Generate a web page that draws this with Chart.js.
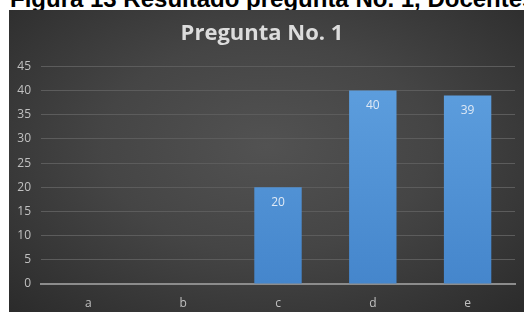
<!DOCTYPE html>
<html lang="es">
<head>
<meta charset="UTF-8">
<title>Pregunta No. 1</title>
<script src="https://cdn.jsdelivr.net/npm/chart.js"></script>
<style>
    body {
        margin: 0;
        width: 524px;
        height: 312px;
        overflow: hidden;
        background: #fff;
        position: relative;
    }
    .caption {
        position: absolute;
        left: 10px;
        top: -13px;
        font-family: 'Liberation Sans', Arial, sans-serif;
        font-weight: bold;
        font-size: 24px;
        line-height: 24px;
        white-space: nowrap;
        color: #000;
    }
    .chart-box {
        position: absolute;
        left: 9px;
        top: 10px;
        width: 515px;
        height: 302px;
        background: radial-gradient(ellipse at 50% 45%, #525252 0%, #454545 45%, #2b2b2b 100%);
    }
</style>
</head>
<body>
<div class="caption">Figura 13 Resultado pregunta No. 1, Docentes</div>
<div class="chart-box"><canvas id="chart"></canvas></div>

<script>
    const categories = ['a', 'b', 'c', 'd', 'e'];
    const values = [0, 0, 20, 40, 39];
    const yTicks = [0, 5, 10, 15, 20, 25, 30, 35, 40, 45];

    // value labels inside the top of each bar
    const barLabels = {
        id: 'barLabels',
        afterDatasetsDraw(chart) {
            const ctx = chart.ctx;
            const meta = chart.getDatasetMeta(0);
            ctx.save();
            ctx.font = '12px "Open Sans", sans-serif';
            ctx.fillStyle = '#dfe9f5';
            ctx.textAlign = 'center';
            ctx.textBaseline = 'middle';
            meta.data.forEach((bar, i) => {
                if (!values[i]) return;
                ctx.fillText(values[i], bar.x, bar.y + 15);
            });
            ctx.restore();
        }
    };

    function barFill(context) {
        const area = context.chart.chartArea;
        if (!area) return '#5b9bd5';
        const g = context.chart.ctx.createLinearGradient(0, area.top, 0, area.bottom);
        g.addColorStop(0, '#5fa0df');
        g.addColorStop(1, '#4586cc');
        return g;
    }

    new Chart(document.getElementById('chart'), {
        type: 'bar',
        data: {
            labels: categories,
            datasets: [{
                data: values,
                backgroundColor: barFill,
                borderWidth: 0,
                categoryPercentage: 1,
                barPercentage: 0.5
            }]
        },
        options: {
            responsive: true,
            maintainAspectRatio: false,
            animation: false,
            layout: { padding: { left: 0, right: 9, top: 0, bottom: 0 } },
            plugins: {
                legend: { display: false },
                tooltip: { enabled: false },
                title: {
                    display: true,
                    text: 'Pregunta No. 1',
                    color: '#dcdcdc',
                    font: { family: '"Open Sans", sans-serif', size: 22, weight: 'bold' },
                    padding: { top: 11, bottom: 19 }
                }
            },
            scales: {
                x: {
                    grid: { display: false, drawTicks: false },
                    border: { color: '#8c8c8c', width: 2 },
                    ticks: {
                        color: '#c0c0c0',
                        font: { family: '"Open Sans", sans-serif', size: 12 },
                        padding: 12
                    },
                    afterFit(scale) { scale.height = 28; }
                },
                y: {
                    min: 0,
                    max: 45,
                    afterBuildTicks(scale) { scale.ticks = yTicks.map(v => ({ value: v })); },
                    grid: {
                        color: '#5c5c5c',
                        lineWidth: 1,
                        drawTicks: false
                    },
                    border: { display: false },
                    ticks: {
                        color: '#c0c0c0',
                        font: { family: '"Open Sans", sans-serif', size: 12 },
                        padding: 10
                    },
                    afterFit(scale) { scale.width = 32; }
                }
            }
        },
        plugins: [barLabels]
    });
</script>
</body>
</html>
